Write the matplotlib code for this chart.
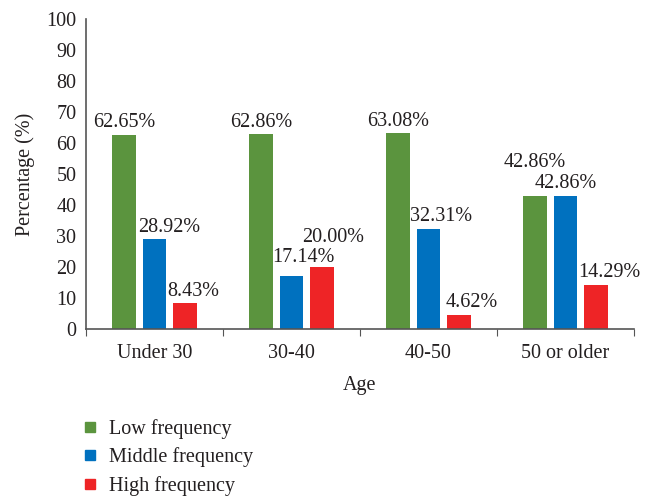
import matplotlib.pyplot as plt
import numpy as np
from matplotlib.lines import Line2D

plt.rcParams['font.family'] = ['Liberation Serif', 'DejaVu Serif']

groups = ["Under 30", "30-40", "40-50", "50 or older"]
series = ["Low frequency", "Middle frequency", "High frequency"]
low = [62.65, 62.86, 63.08, 42.86]
middle = [28.92, 17.14, 32.31, 42.86]
high = [8.43, 20.00, 4.62, 14.29]
yticks = [0, 10, 20, 30, 40, 50, 60, 70, 80, 90, 100]

colors = ["#5B943E", "#0071BF", "#EE2426"]
txt = "#231F20"
fs = 14.5

# label offsets in pixels (dx, dy above bar top) per series/group
offsets = [
    [(0, 12), (0, 12), (0, 12), (0, 34)],
    [(15, 12), (12, 18), (13, 12), (0, 13)],
    [(8, 11), (11, 29), (13, 12), (13, 12)],
]

fig = plt.figure(figsize=(6.52, 4.99), dpi=100)
ax = fig.add_axes([86 / 652, 1 - 329 / 499, 548 / 652, 310 / 499])

x = np.arange(len(groups))
width = 0.175
step = 0.223
px2pt = 72 / 100
for i, vals in enumerate([low, middle, high]):
    xs = x + (i - 1) * step
    ax.bar(xs, vals, width=width, color=colors[i], label=series[i])
    for j, (xx, v) in enumerate(zip(xs, vals)):
        dx, dy = offsets[i][j]
        ax.annotate(f"{v:.2f}%", (xx, v), xytext=(dx * px2pt, dy * px2pt),
                    textcoords="offset points", ha="center", va="center",
                    fontsize=fs, color=txt)

ax.set_xlim(-0.5, len(groups) - 0.5)
ax.set_ylim(0, 100)
ax.set_yticks(yticks)
ax.tick_params(axis="y", length=0, pad=7, labelsize=fs, labelcolor=txt)

ax.set_xticks(np.arange(len(groups) + 1) - 0.5)
ax.set_xticklabels([])
ax.tick_params(axis="x", which="major", length=5, direction="out", color="#555555")
ax.set_xticks(x, minor=True)
ax.set_xticklabels(groups, minor=True)
ax.tick_params(axis="x", which="minor", length=0, pad=11, labelsize=fs, labelcolor=txt)

for s in ["top", "right"]:
    ax.spines[s].set_visible(False)
for s in ["left", "bottom"]:
    ax.spines[s].set_color("#555555")
    ax.spines[s].set_linewidth(1.2)

ax.set_ylabel("Percentage (%)", fontsize=fs, color=txt, labelpad=8)
ax.set_xlabel("Age", fontsize=fs, color=txt, labelpad=9)

handles = [Line2D([], [], marker="s", linestyle="", markersize=7,
                  markerfacecolor=c, markeredgecolor=c) for c in colors]
fig.legend(handles, series, loc="upper left", bbox_to_anchor=(72 / 652, 1 - 411 / 499),
           frameon=False, fontsize=fs, labelcolor=txt, handlelength=1.0,
           handletextpad=0.45, labelspacing=0.42, borderaxespad=0)

fig.savefig("out.png", dpi=100)
